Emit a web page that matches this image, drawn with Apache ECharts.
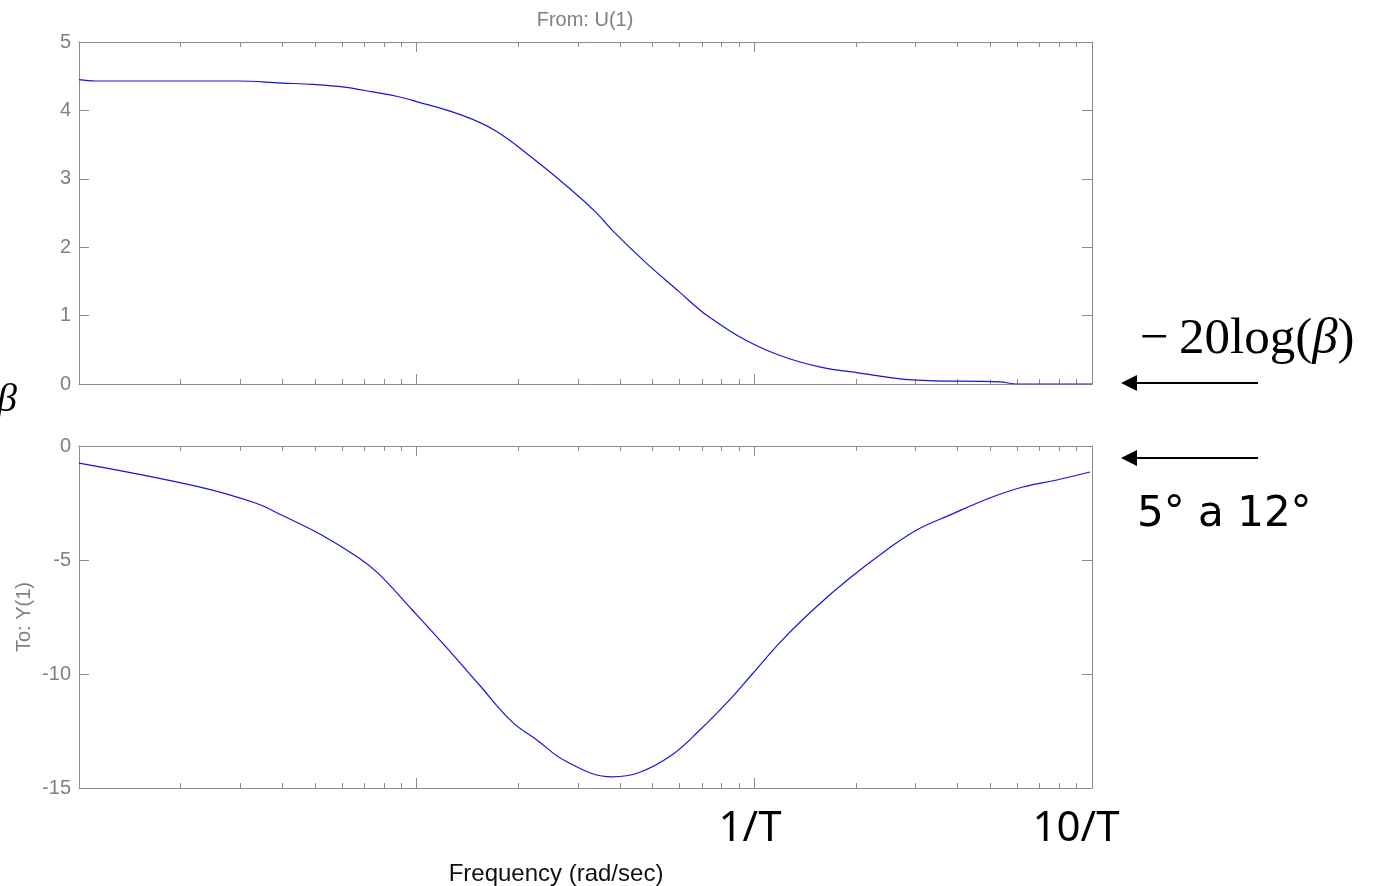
<!DOCTYPE html>
<html>
<head>
<meta charset="utf-8">
<script src="https://cdn.jsdelivr.net/npm/echarts@6/dist/echarts.min.js"></script>
<style>
  html, body { margin: 0; padding: 0; background: #fff; }
  #chart { width: 1380px; height: 886px; }
</style>
</head>
<body>
<div id="chart"></div>
<script>
// magnitude (dB) vs frequency (rad/sec)
const magFreq = [0.01, 0.0112, 0.0296, 0.0398, 0.0494, 0.0611, 0.0741, 0.0885, 0.0966, 0.136, 0.1716, 0.2194, 0.2884, 0.3396, 0.3791, 0.478, 0.5986, 0.6867, 0.735, 0.921, 1.186, 1.56, 2.05, 2.94, 5.33, 6.0, 10];
const magDb = [4.45, 4.43, 4.43, 4.40, 4.38, 4.34, 4.27, 4.20, 4.15, 3.93, 3.70, 3.31, 2.83, 2.51, 2.25, 1.77, 1.35, 1.09, 0.98, 0.67, 0.42, 0.25, 0.16, 0.06, 0.03, 0.0, 0.0];

// phase (deg) vs frequency, bottom panel
const phaseFreq = [0.01, 0.0225, 0.0333, 0.0398, 0.0523, 0.0673, 0.0771, 0.0966, 0.1219, 0.1527, 0.1914, 0.2254, 0.2768, 0.379, 0.4558, 0.5714, 0.687, 0.861, 0.986, 1.211, 1.527, 1.914, 2.464, 3.027, 3.79, 4.98, 6.24, 7.87, 9.86];
const phaseDeg = [-0.75, -1.78, -2.5, -3.03, -3.9, -4.9, -5.6, -7.16, -8.80, -10.45, -12.09, -12.86, -13.83, -14.51, -14.32, -13.54, -12.48, -11.0, -10.0, -8.5, -7.05, -5.8, -4.56, -3.68, -3.03, -2.28, -1.8, -1.49, -1.14];

const majorTicks = [0.1, 1];
const minorTicks = [0.02, 0.03, 0.04, 0.05, 0.06, 0.07, 0.08, 0.09,
                    0.2, 0.3, 0.4, 0.5, 0.6, 0.7, 0.8, 0.9,
                    2, 3, 4, 5, 6, 7, 8, 9];

const axisColor = '#8c8c8c';
const labelColor = '#808080';
const sans = '"Liberation Sans", Arial, sans-serif';

function xAxesFor(g) {
    const base = {
        type: 'log', gridIndex: g, min: 0.01, max: 10,
        axisLabel: { show: false }, splitLine: { show: false }
    };
    const list = [];
    ['bottom', 'top'].forEach(pos => {
        list.push(Object.assign({}, base, {
            position: pos,
            axisLine: { show: true, onZero: false, lineStyle: { color: axisColor, width: 1 } },
            axisTick: { show: true, inside: true, length: 10, customValues: majorTicks, lineStyle: { color: axisColor } }
        }));
        list.push(Object.assign({}, base, {
            position: pos,
            axisLine: { show: false, onZero: false },
            axisTick: { show: true, inside: true, length: 5, customValues: minorTicks, lineStyle: { color: axisColor } }
        }));
    });
    return list;
}

function yAxesFor(g, min, max, interval) {
    return [
        {
            type: 'value', gridIndex: g, min: min, max: max, interval: interval, position: 'left',
            axisLine: { show: true, onZero: false, lineStyle: { color: axisColor } },
            axisTick: { show: true, inside: true, length: 10, lineStyle: { color: axisColor } },
            axisLabel: { color: labelColor, fontSize: 20, fontFamily: sans, margin: 8 },
            splitLine: { show: false }
        },
        {
            type: 'value', gridIndex: g, min: min, max: max, interval: interval, position: 'right',
            axisLine: { show: true, onZero: false, lineStyle: { color: axisColor } },
            axisTick: { show: true, inside: true, length: 10, lineStyle: { color: axisColor } },
            axisLabel: { show: false },
            splitLine: { show: false }
        }
    ];
}

const chart = echarts.init(document.getElementById('chart'), null, { renderer: 'canvas' });

const lineStyle = { color: '#1515d8', width: 1.2 };

function arrow(y) {
    return [
        { type: 'line', shape: { x1: 1258, y1: y, x2: 1134, y2: y }, style: { stroke: '#000', lineWidth: 2 } },
        { type: 'polygon', shape: { points: [[1121, y], [1137, y - 8], [1137, y + 8]] }, style: { fill: '#000' } }
    ];
}

const option = {
    backgroundColor: '#fff',
    animation: false,
    grid: [
        { left: 79, top: 42, width: 1013, height: 342 },
        { left: 79, top: 446, width: 1013, height: 342 }
    ],
    xAxis: xAxesFor(0).concat(xAxesFor(1)),
    yAxis: yAxesFor(0, 0, 5, 1).concat(yAxesFor(1, -15, 0, 5)),
    series: [
        {
            type: 'line', xAxisIndex: 0, yAxisIndex: 0, showSymbol: false, smooth: 0.4,
            data: magFreq.map((f, i) => [f, magDb[i]]), lineStyle: lineStyle
        },
        {
            type: 'line', xAxisIndex: 4, yAxisIndex: 2, showSymbol: false, smooth: 0.4,
            data: phaseFreq.map((f, i) => [f, phaseDeg[i]]), lineStyle: lineStyle
        }
    ],
    graphic: [
        { type: 'text', x: 585, y: 20, style: { text: 'From: U(1)', fill: labelColor, font: '20px ' + sans, align: 'center', verticalAlign: 'middle', textAlign: 'center', textVerticalAlign: 'middle' } },
        { type: 'text', x: 24, y: 617, rotation: Math.PI / 2, style: { text: 'To: Y(1)', fill: labelColor, font: '20px ' + sans, align: 'center', verticalAlign: 'middle', textAlign: 'center', textVerticalAlign: 'middle' } },
        { type: 'text', x: 556, y: 874, style: { text: 'Frequency (rad/sec)', fill: '#111', font: '24px ' + sans, align: 'center', verticalAlign: 'middle', textAlign: 'center', textVerticalAlign: 'middle' } },
        { type: 'text', x: 750, y: 829, style: { text: '1/T', fill: '#000', font: '42px "Noto Sans", sans-serif', align: 'center', verticalAlign: 'middle', textAlign: 'center', textVerticalAlign: 'middle' } },
        { type: 'text', x: 1076, y: 829, style: { text: '10/T', fill: '#000', font: '42px "Noto Sans", sans-serif', align: 'center', verticalAlign: 'middle', textAlign: 'center', textVerticalAlign: 'middle' } },
        { type: 'text', x: 1137, y: 515, style: { text: '5° a 12°', fill: '#000', font: '42px "DejaVu Sans", sans-serif', align: 'left', verticalAlign: 'middle', textAlign: 'left', textVerticalAlign: 'middle' } },
        {
            type: 'text', x: 1140, y: 340,
            style: {
                text: '{a|\u2212\u200920log(}{b|β}{a|)}',
                align: 'left', verticalAlign: 'middle', textAlign: 'left', textVerticalAlign: 'middle',
                rich: {
                    a: { fontSize: 51, fontFamily: '"Liberation Serif", serif', fill: '#000', color: '#000' },
                    b: { fontSize: 51, fontFamily: '"Liberation Serif", serif', fontStyle: 'italic', fill: '#000', color: '#000' }
                }
            }
        },
        { type: 'text', x: 17, y: 400, style: { text: 'β', fill: '#000', font: 'italic 40px "Liberation Serif", serif', align: 'right', verticalAlign: 'middle', textAlign: 'right', textVerticalAlign: 'middle' } }
    ].concat(arrow(383), arrow(458))
};

chart.setOption(option);
</script>
</body>
</html>
